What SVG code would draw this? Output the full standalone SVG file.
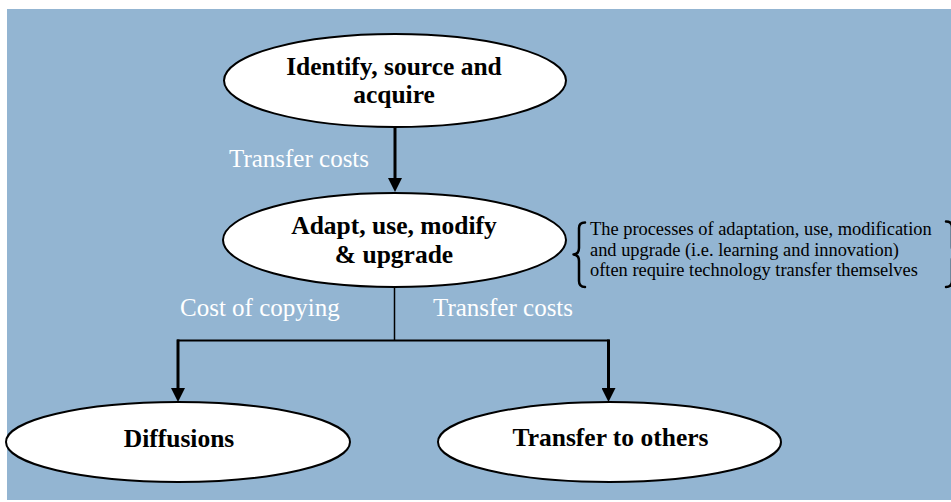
<svg xmlns="http://www.w3.org/2000/svg" width="951" height="502" viewBox="0 0 951 502">
<style>
.node ellipse{fill:#ffffff;stroke:#000000;stroke-width:2}
.ntext{font-family:"Liberation Serif",serif;font-weight:bold;font-size:25.5px;fill:#000000;text-anchor:middle}
.lbl{font-family:"Liberation Serif",serif;font-size:25px;fill:#ffffff}
.note{font-family:"Liberation Serif",serif;font-size:18.4px;fill:#000000}
.thick{stroke:#000000;stroke-width:3;fill:none}
.thin{stroke:#000000;stroke-width:1.5;fill:none}
.mid{stroke:#000000;stroke-width:2;fill:none}
.brace{stroke:#000000;stroke-width:2.5;fill:none;stroke-linecap:round;stroke-linejoin:round}
</style>
<defs>
<marker id="arr" viewBox="0 0 14 14" markerUnits="userSpaceOnUse" markerWidth="14" markerHeight="14" refX="8" refY="7" orient="auto">
<path d="M0,0 L14,7 L0,14 z" fill="#000000"/>
</marker>
</defs>
<rect x="7" y="9" width="944" height="491" fill="#93b5d2"/>
<g id="connectors">
<line class="thick" x1="395" y1="127" x2="395" y2="186" marker-end="url(#arr)"/>
<line class="thin" x1="394.5" y1="287" x2="394.5" y2="340.5"/>
<line class="mid" x1="177" y1="340.5" x2="609.5" y2="340.5"/>
<line class="thick" x1="178" y1="339.5" x2="178" y2="396" marker-end="url(#arr)"/>
<line class="thick" x1="608.5" y1="339.5" x2="608.5" y2="396" marker-end="url(#arr)"/>
</g>
<g id="node-identify" class="node">
<ellipse cx="395" cy="80.5" rx="171" ry="46.5"/>
<text class="ntext" x="394" y="75">Identify, source and</text>
<text class="ntext" x="394" y="103">acquire</text>
</g>
<g id="node-adapt" class="node">
<ellipse cx="394.5" cy="240" rx="171.5" ry="47"/>
<text class="ntext" x="394" y="234">Adapt, use, modify</text>
<text class="ntext" x="394" y="263">&amp; upgrade</text>
</g>
<g id="node-diffusions" class="node">
<ellipse cx="178" cy="442" rx="172" ry="40"/>
<text class="ntext" x="179" y="447">Diffusions</text>
</g>
<g id="node-transfer" class="node">
<ellipse cx="609.5" cy="442" rx="171.5" ry="40"/>
<text class="ntext" x="610.5" y="446">Transfer to others</text>
</g>
<g id="labels">
<text class="lbl" x="229" y="167">Transfer costs</text>
<text class="lbl" x="180" y="316">Cost of copying</text>
<text class="lbl" x="433" y="316">Transfer costs</text>
</g>
<g id="note">
<path class="brace" d="M585,222.5 Q579,222.5 579,228 L579,248 Q579,254 573.5,254.5 Q579,255 579,261 L579,281 Q579,287 585,287"/>
<path class="brace" d="M946,221.5 Q952,221.5 952,227 L952,247 Q952,253 957.5,253.5 Q952,254 952,260 L952,281 Q952,287 946,287"/>
<text class="note" x="590" y="235">The processes of adaptation, use, modification</text>
<text class="note" x="590" y="255.5">and upgrade (i.e. learning and innovation)</text>
<text class="note" x="590" y="276">often require technology transfer themselves</text>
</g>
</svg>
